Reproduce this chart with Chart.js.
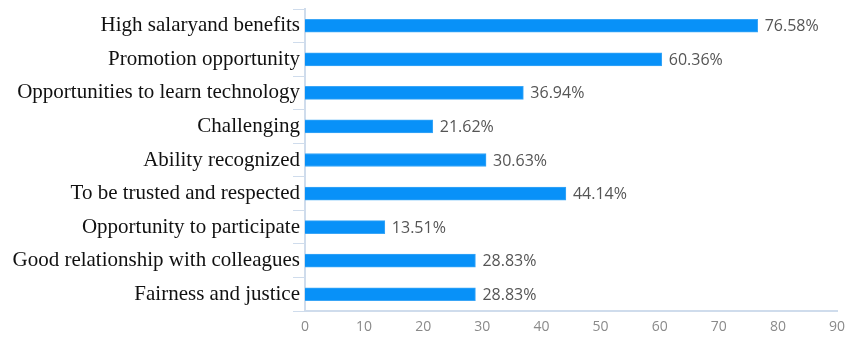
<!DOCTYPE html>
<html>
<head>
<meta charset="utf-8">
<script src="https://cdn.jsdelivr.net/npm/chart.js@4/dist/chart.umd.min.js"></script>
<style>
  html, body { margin: 0; padding: 0; background: #ffffff; }
  #wrap { width: 845px; height: 338px; }
</style>
</head>
<body>
<div id="wrap"><canvas id="chart" width="845" height="338"></canvas></div>
<script>
// Motivating factors and the share of respondents choosing each (%)
const categories = [
  'High salaryand benefits',
  'Promotion opportunity',
  'Opportunities to learn technology',
  'Challenging',
  'Ability recognized',
  'To be trusted and respected',
  'Opportunity to participate',
  'Good relationship with colleagues',
  'Fairness and justice'
];
const shares = [76.58, 60.36, 36.94, 21.62, 30.63, 44.14, 13.51, 28.83, 28.83];
const xTicks = [0, 10, 20, 30, 40, 50, 60, 70, 80, 90];

const axisColor = '#cfdcec';

// Writes each bar's percentage just past its end
const valueLabels = {
  id: 'valueLabels',
  afterDatasetsDraw(chart) {
    const ctx = chart.ctx;
    const meta = chart.getDatasetMeta(0);
    ctx.save();
    ctx.font = '16px "Open Sans", "Noto Sans", sans-serif';
    ctx.fillStyle = '#555555';
    ctx.textAlign = 'left';
    ctx.textBaseline = 'middle';
    meta.data.forEach((bar, i) => {
      ctx.fillText(shares[i].toFixed(2) + '%', bar.x + 7, bar.y + 1);
    });
    ctx.restore();
  }
};

new Chart(document.getElementById('chart'), {
  type: 'bar',
  data: {
    labels: categories,
    datasets: [{
      data: shares,
      backgroundColor: '#0891f8',
      borderColor: '#3aa6f7',
      borderWidth: 1,
      borderSkipped: 'left',
      barThickness: 13
    }]
  },
  options: {
    indexAxis: 'y',
    responsive: false,
    animation: false,
    layout: { padding: { top: 9, right: 8, bottom: 0, left: 0 } },
    plugins: {
      legend: { display: false },
      tooltip: { enabled: false }
    },
    scales: {
      x: {
        min: 0,
        max: 90,
        afterBuildTicks(scale) { scale.ticks = xTicks.map(v => ({ value: v })); },
        grid: { display: false, drawTicks: false },
        border: { display: true, color: axisColor, width: 2 },
        ticks: {
          padding: 8,
          color: '#8a8a8a',
          font: { size: 14, family: '"Open Sans", "Noto Sans", sans-serif' }
        },
        afterFit(scale) {
          scale.height = 27;
          scale.paddingLeft = 0;
          scale.paddingRight = 0;
        }
      },
      y: {
        offset: true,
        grid: {
          offset: true,
          drawOnChartArea: false,
          drawTicks: true,
          tickLength: 12,
          color: axisColor,
          lineWidth: 1
        },
        border: { display: true, color: axisColor, width: 2 },
        ticks: {
          padding: -7,
          color: '#111111',
          font: { size: 21, family: '"Liberation Serif", "Times New Roman", serif' }
        },
        afterFit(scale) { scale.width = 305; }
      }
    }
  },
  plugins: [valueLabels]
});
</script>
</body>
</html>
